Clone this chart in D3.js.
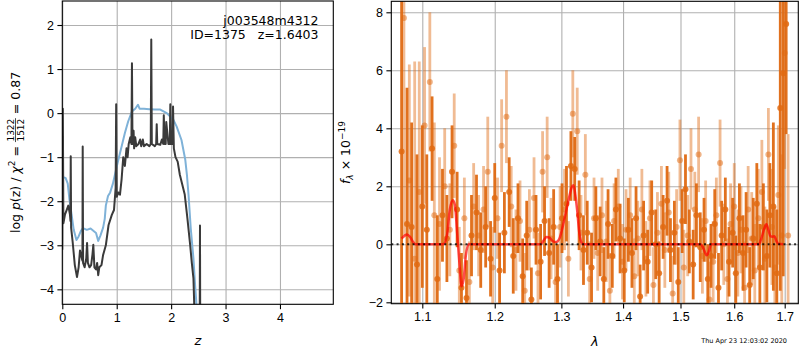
<!DOCTYPE html>
<html>
<head>
<meta charset="utf-8">
<script src="https://cdn.jsdelivr.net/npm/d3@7"></script>
<style>
  body { margin: 0; background: #fff; }
  svg { display: block; font-family: "DejaVu Sans", sans-serif; }
  .tick text { font-size: 12.5px; fill: #000; }
  .tick line { stroke: #000; stroke-width: 1.1; }
  .grid .tick line { stroke: #b0b0b0; stroke-width: 1.1; }
  .grid .domain { display: none; }
  .frame { fill: none; stroke: #000; stroke-width: 1.1; }
</style>
</head>
<body>
<svg id="chart" width="800" height="350"></svg>
<script>
// ---- p(z) panel data
const zBlack = [
  0.000, 0.010, 0.020, 0.050, 0.080, 0.110, 0.140, 0.150, 0.155, 0.162,
  0.190, 0.230, 0.270, 0.300, 0.325, 0.360, 0.370, 0.375, 0.382, 0.410,
  0.440, 0.455, 0.470, 0.500, 0.530, 0.555, 0.570, 0.590, 0.620, 0.640,
  0.660, 0.680, 0.720, 0.750, 0.800, 0.850, 0.910, 0.950, 0.980, 0.990,
  1.000, 1.030, 1.060, 1.090, 1.120, 1.150, 1.180, 1.200, 1.220, 1.250,
  1.270, 1.280, 1.290, 1.310, 1.320, 1.340, 1.360, 1.400, 1.430, 1.450,
  1.480, 1.500, 1.550, 1.600, 1.625, 1.635, 1.645, 1.700, 1.725, 1.735,
  1.745, 1.800, 1.830, 1.855, 1.865, 1.880, 1.900, 1.910, 1.950, 1.975,
  1.985, 1.995, 2.025, 2.035, 2.050, 2.080, 2.120, 2.160, 2.200, 2.250,
  2.300, 2.350, 2.380, 2.410, 2.440, 2.500, 2.525, 2.530, 2.535, 2.560
];
const pBlack = [
  -3.10, 0.10, -2.50, -2.30, -2.20, -2.10, -2.30, -2.45, -0.98, -2.60,
  -2.92, -3.45, -3.72, -3.50, -3.12, -3.30, -3.35, -0.76, -3.40, -3.50,
  -3.30, -2.95, -3.40, -3.50, -3.45, -3.20, -2.99, -3.50, -3.55, -3.40,
  -3.68, -3.50, -3.45, -3.22, -3.00, -2.54, -2.31, -2.20, -1.70, 0.20,
  -1.90, -1.80, -1.85, -1.50, -1.00, -1.20, -0.80, -1.00, -0.70, -0.55,
  -0.70, 1.13, -0.70, -0.40, -0.80, -0.55, -0.75, -0.70, -0.60, -0.75,
  -0.60, -0.75, -0.70, -0.75, -0.70, 1.67, -0.70, -0.75, -0.70, -0.25,
  -0.70, -0.72, -0.60, -0.70, -0.05, -0.70, -0.70, -0.20, -0.70, -0.70,
  0.20, -0.70, -0.70, 0.15, -0.80, -1.00, -1.10, -1.40, -1.60, -1.85,
  -2.40, -3.00, -3.40, -3.75, -5.00, -5.00, -5.00, -2.55, -5.00, -5.00
];
const zBlue = [
  0.00, 0.06, 0.10, 0.13, 0.17, 0.21, 0.26, 0.30, 0.34, 0.38,
  0.45, 0.52, 0.57, 0.62, 0.66, 0.70, 0.75, 0.78, 0.80, 0.84,
  0.88, 0.93, 0.97, 1.03, 1.09, 1.15, 1.21, 1.28, 1.34, 1.39,
  1.42, 1.50, 1.60, 1.70, 1.80, 1.92, 2.04, 2.10, 2.19, 2.26,
  2.29, 2.32, 2.36, 2.41, 2.44, 2.48
];
const pBlue = [
  -1.45, -1.47, -1.60, -1.95, -2.30, -2.65, -2.88, -2.80, -2.68, -2.61,
  -2.65, -2.62, -2.67, -2.72, -2.90, -2.78, -2.60, -2.40, -2.10, -1.88,
  -1.80, -1.60, -1.38, -1.06, -0.76, -0.45, -0.19, 0.04, 0.10, 0.19,
  0.10, 0.10, 0.09, 0.08, 0.08, 0.00, -0.15, -0.30, -0.61, -1.06,
  -1.40, -1.86, -2.61, -3.30, -3.90, -4.60
];
const zTicks = [0, 1, 2, 3, 4];
const pTicks = [-4, -3, -2, -1, 0, 1, 2];

// ---- spectrum panel data (flux in 1e-19)
const lamA = [
  1.073, 1.080, 1.086, 1.093, 1.100, 1.106, 1.113, 1.120, 1.127, 1.133,
  1.140, 1.147, 1.153, 1.160, 1.167, 1.174, 1.180, 1.187, 1.194, 1.200,
  1.207, 1.214, 1.221, 1.227, 1.234, 1.241, 1.247, 1.254, 1.261, 1.268,
  1.274, 1.281, 1.288, 1.294, 1.301, 1.308, 1.315, 1.321, 1.328, 1.335,
  1.341, 1.348, 1.355, 1.362, 1.368, 1.375, 1.382, 1.388, 1.395, 1.402,
  1.409, 1.415, 1.422, 1.429, 1.435, 1.442, 1.449, 1.456, 1.462, 1.469,
  1.476, 1.482, 1.489, 1.496, 1.503, 1.509, 1.516, 1.523, 1.529, 1.536,
  1.543, 1.550, 1.556, 1.563, 1.570, 1.576, 1.583, 1.590, 1.597, 1.603,
  1.610, 1.617, 1.623, 1.630, 1.637, 1.644, 1.650, 1.657, 1.664, 1.670,
  1.677, 1.684, 1.691, 1.697, 1.703
];
const fluxA = [
  3.2, 0.7, 0.6, -0.7, 1.3, 0.5, 3.3, -1.2, 1.0, 0.2,
  2.5, 1.2, -1.5, -1.85, 0.3, 1.1, -0.2, 0.6, -0.5, 1.6,
  -0.9, 0.4, 1.8, -0.4, 0.9, -1.1, 0.3, -1.9, 0.5, -0.6,
  0.8, -0.3, 0.6, -1.2, 0.9, 1.4, 2.7, 2.6, 1.0, -0.2,
  0.4, -0.8, 0.9, 0.1, -1.2, 0.7, -0.4, 1.2, 0.2, -0.9,
  0.5, -0.3, 0.9, -1.8, 0.3, -0.6, 1.1, 0.0, -1.0, 0.6,
  1.5, -0.2, 0.4, -1.3, 0.8, 1.9, 0.1, -0.7, 1.0, -0.1,
  0.5, -1.2, -0.4, 0.7, -1.5, 0.3, 1.2, -0.6, 0.4, -1.0,
  0.9, -0.3, 0.5, -1.4, 0.2, 1.4, -0.8, 0.6, -0.4, 1.0,
  1.3, -1.0, 4.7, 5.9, 7.6
];
const errA = [
  6.0, 4.7, 3.6, 3.8, 2.8, 2.6, 1.8, 2.2, 1.6, 1.5,
  1.6, 1.3, 1.2, 1.3, 1.4, 1.3, 1.3, 1.4, 1.3, 1.2,
  1.3, 1.4, 1.2, 1.3, 1.2, 1.3, 1.2, 1.1, 1.2, 1.3,
  1.2, 1.2, 1.3, 1.2, 1.2, 1.3, 1.2, 1.1, 1.2, 1.2,
  1.1, 1.2, 1.1, 1.2, 1.1, 1.2, 1.1, 1.1, 1.2, 1.1,
  1.1, 1.2, 1.1, 1.1, 1.2, 1.1, 1.1, 1.2, 1.1, 1.1,
  1.2, 1.1, 1.1, 1.2, 1.1, 1.2, 1.1, 1.2, 1.1, 1.2,
  1.1, 1.2, 1.1, 1.2, 1.2, 1.2, 1.1, 1.2, 1.2, 1.3,
  1.2, 1.3, 1.3, 1.3, 1.4, 1.4, 1.5, 1.5, 1.6, 1.8,
  2.9, 2.2, 6.3, 7.0, 3.8
];
const lamB = [
  1.076, 1.083, 1.090, 1.096, 1.103, 1.110, 1.116, 1.123, 1.130, 1.137,
  1.143, 1.150, 1.157, 1.164, 1.170, 1.177, 1.184, 1.190, 1.197, 1.204,
  1.210, 1.217, 1.224, 1.231, 1.237, 1.244, 1.251, 1.258, 1.264, 1.271,
  1.278, 1.284, 1.291, 1.298, 1.305, 1.311, 1.318, 1.325, 1.331, 1.338,
  1.345, 1.352, 1.358, 1.365, 1.372, 1.378, 1.385, 1.392, 1.399, 1.405,
  1.412, 1.419, 1.425, 1.432, 1.439, 1.446, 1.452, 1.459, 1.466, 1.472,
  1.479, 1.486, 1.493, 1.499, 1.506, 1.513, 1.519, 1.526, 1.533, 1.540,
  1.546, 1.553, 1.560, 1.566, 1.573, 1.580, 1.587, 1.593, 1.600, 1.607,
  1.613, 1.620, 1.627, 1.634, 1.640, 1.647, 1.654, 1.660, 1.667, 1.674,
  1.680, 1.687, 1.694, 1.700, 1.707
];
const fluxB = [
  7.8, 2.2, -0.5, 1.8, 4.1, 5.6, 1.0, 0.7, 2.0, 0.5,
  3.4, -0.9, 0.9, -1.3, 1.3, 0.3, 1.2, 2.5, -0.8, 0.9,
  3.4, 4.4, 1.3, -0.2, 0.8, -1.6, 0.5, 1.6, -1.0, 2.5,
  3.0, 0.2, -1.3, 0.6, 1.2, -0.5, 4.5, 3.9, 0.4, 2.4,
  -1.2, 0.9, -0.3, 1.0, 0.1, -1.6, 0.8, 1.3, -0.6, 0.5,
  1.0, -1.1, 0.2, 1.2, -0.5, 0.9, -1.4, 0.4, 1.4, -0.2,
  1.1, -1.7, 0.6, 2.9, -0.8, 0.3, 2.6, 1.2, 3.1, -0.4,
  0.8, -1.9, -0.6, 1.0, 2.8, 0.0, -1.2, 0.7, 1.3, -0.3,
  0.5, -1.5, 1.2, 0.2, -0.9, 0.9, 1.8, -0.5, 3.1, 0.6,
  -0.8, 1.7, 0.3, 6.6, 0.3
];
const errB = [
  7.5, 4.0, 6.8, 4.5, 2.7, 2.4, 3.2, 2.3, 2.0, 1.6,
  1.8, 1.5, 1.4, 1.4, 1.5, 1.4, 1.5, 1.9, 1.4, 1.4,
  1.6, 1.6, 1.4, 1.4, 1.4, 1.3, 1.4, 1.4, 1.4, 1.4,
  1.4, 1.4, 1.4, 1.4, 1.4, 1.3, 1.5, 1.5, 1.3, 1.4,
  1.3, 1.4, 1.3, 1.3, 1.4, 1.3, 1.3, 1.3, 1.3, 1.4,
  1.3, 1.3, 1.3, 1.4, 1.3, 1.3, 1.3, 1.4, 1.3, 1.3,
  1.4, 1.3, 1.3, 1.4, 1.3, 1.4, 1.4, 1.3, 1.3, 1.3,
  1.4, 1.3, 1.4, 1.3, 1.5, 1.4, 1.4, 1.4, 1.5, 1.5,
  1.5, 1.6, 1.5, 1.6, 1.6, 1.7, 1.8, 1.8, 1.6, 2.0,
  2.1, 2.4, 2.8, 4.0, 3.5
];
const lamModel = [
  1.073, 1.077, 1.080, 1.084, 1.088, 1.091, 1.128, 1.133, 1.137, 1.141,
  1.144, 1.147, 1.150, 1.153, 1.156, 1.159, 1.163, 1.268, 1.273, 1.277,
  1.282, 1.287, 1.292, 1.297, 1.302, 1.307, 1.312, 1.316, 1.319, 1.322,
  1.325, 1.328, 1.331, 1.335, 1.537, 1.542, 1.548, 1.552, 1.556, 1.648,
  1.653, 1.658, 1.663, 1.667, 1.671, 1.675, 1.679, 1.683, 1.687, 1.697
];
const fluxModel = [
  0.20, 0.30, 0.34, 0.25, 0.08, 0.00, 0.00, 0.30, 1.20, 1.52,
  1.35, 0.40, -0.60, -1.45, -1.20, -0.40, 0.00, 0.00, 0.15, 0.25,
  0.22, 0.10, 0.08, 0.20, 0.60, 1.10, 1.60, 1.95, 2.04, 1.70,
  1.15, 0.45, 0.10, 0.00, 0.00, -0.15, -0.38, -0.25, 0.00, 0.00,
  0.20, 0.50, 0.69, 0.50, 0.28, 0.26, 0.28, 0.12, 0.02, 0.00
];
const lamTicks = [1.1, 1.2, 1.3, 1.4, 1.5, 1.6, 1.7];
const fTicks = [-2, 0, 2, 4, 6, 8];

const svg = d3.select("#chart");
const defs = svg.append("defs");

// panel boxes (pixels)
const L = { left: 62.3, right: 333.3, top: 1, bottom: 304.3 };
const R = { left: 391.3, right: 798.3, top: 1.3, bottom: 303.7 };

function clip(id, b) {
  defs.append("clipPath").attr("id", id)
    .append("rect")
    .attr("x", b.left).attr("y", b.top)
    .attr("width", b.right - b.left).attr("height", b.bottom - b.top);
}
clip("clipL", L);
clip("clipR", R);

function drawGrid(b, x, y, xt, yt) {
  svg.append("g").attr("class", "grid")
    .attr("transform", "translate(0," + b.bottom + ")")
    .call(d3.axisBottom(x).tickValues(xt).tickSize(-(b.bottom - b.top)).tickFormat(""));
  svg.append("g").attr("class", "grid")
    .attr("transform", "translate(" + b.left + ",0)")
    .call(d3.axisLeft(y).tickValues(yt).tickSize(-(b.right - b.left)).tickFormat(""));
}
function drawFrame(b, x, y, xt, yt, xfmt, yfmt) {
  const gx = svg.append("g")
    .attr("transform", "translate(0," + b.bottom + ")")
    .call(d3.axisBottom(x).tickValues(xt).tickSize(4.9).tickPadding(3.5).tickFormat(xfmt));
  gx.select(".domain").remove();
  gx.selectAll("text").attr("font-family", null).attr("font-size", null);
  const gy = svg.append("g")
    .attr("transform", "translate(" + b.left + ",0)")
    .call(d3.axisLeft(y).tickValues(yt).tickSize(4.9).tickPadding(3.5).tickFormat(yfmt));
  gy.select(".domain").remove();
  gy.selectAll("text").attr("font-family", null).attr("font-size", null);
  svg.append("rect").attr("class", "frame")
    .attr("x", b.left).attr("y", b.top)
    .attr("width", b.right - b.left).attr("height", b.bottom - b.top);
}

// ---------- left: log p(z)
const xz = d3.scaleLinear().domain([0, 4.98]).range([L.left, L.right]);
const yp = d3.scaleLinear().domain([-4.34, 2.545]).range([L.bottom, L.top]);
drawGrid(L, xz, yp, zTicks, pTicks);

const lineZ = d3.line().x(d => xz(d[0])).y(d => yp(d[1]));
const gL = svg.append("g").attr("clip-path", "url(#clipL)");
gL.append("path")
  .datum(zBlue.map((z, i) => [z, pBlue[i]]))
  .attr("d", lineZ)
  .attr("fill", "none")
  .attr("stroke", "#7fb2d8")
  .attr("stroke-width", 2)
  .attr("stroke-linejoin", "round");
gL.append("path")
  .datum(zBlack.map((z, i) => [z, pBlack[i]]))
  .attr("d", lineZ)
  .attr("fill", "none")
  .attr("stroke", "#3a3a3a")
  .attr("stroke-width", 2)
  .attr("stroke-linejoin", "round");

drawFrame(L, xz, yp, zTicks, pTicks, d3.format("d"), d3.format("d"));

svg.append("text").attr("x", 318.5).attr("y", 25)
  .attr("text-anchor", "end").attr("font-size", 12.5)
  .text("j003548m4312");
svg.append("text").attr("x", 318.5).attr("y", 39)
  .attr("text-anchor", "end").attr("font-size", 12.5)
  .attr("xml:space", "preserve")
  .text("ID=1375   z=1.6403");

// x label
svg.append("text").attr("x", (L.left + L.right) / 2).attr("y", 345)
  .attr("text-anchor", "middle").attr("font-size", 13).attr("font-style", "italic")
  .text("z");

// y label with chi2 fraction
const yl = svg.append("g").attr("transform", "translate(20,152.5) rotate(-90)");
const t1 = yl.append("text").attr("font-size", 12.5).attr("xml:space", "preserve");
t1.append("tspan").text("log ");
t1.append("tspan").attr("font-style", "italic").text("p");
t1.append("tspan").text("(z) / ");
t1.append("tspan").attr("font-style", "italic").text("χ");
t1.append("tspan").attr("font-size", 9).attr("dy", -5).text("2");
t1.append("tspan").attr("dy", 5).text(" = ");
const w1 = t1.node().getComputedTextLength();
const num = yl.append("text").attr("font-size", 9).attr("text-anchor", "middle").text("1322");
const den = yl.append("text").attr("font-size", 9).attr("text-anchor", "middle").text("1512");
const fw = Math.max(num.node().getComputedTextLength(), den.node().getComputedTextLength()) + 1;
const t2 = yl.append("text").attr("font-size", 12.5).attr("xml:space", "preserve").text(" = 0.87");
const w2 = t2.node().getComputedTextLength();
const x0 = -(w1 + fw + w2) / 2;
t1.attr("x", x0);
num.attr("x", x0 + w1 + fw / 2).attr("y", -6.5);
den.attr("x", x0 + w1 + fw / 2).attr("y", 3.5);
yl.append("line")
  .attr("x1", x0 + w1).attr("x2", x0 + w1 + fw)
  .attr("y1", -4.5).attr("y2", -4.5)
  .attr("stroke", "#000").attr("stroke-width", 0.7);
t2.attr("x", x0 + w1 + fw);

// ---------- right: spectrum
const xl = d3.scaleLog().domain([1.0598, 1.728]).range([R.left, R.right]);
const yf = d3.scaleLinear().domain([-2.048, 8.379]).range([R.bottom, R.top]);
drawGrid(R, xl, yf, lamTicks, fTicks);

const gR = svg.append("g").attr("clip-path", "url(#clipR)");
const orange = "#e06a12";

function drawSpec(lam, flux, err, op, mop) {
  const pts = lam.map((l, i) => ({ l: l, f: flux[i], e: err[i] }));
  const g = gR.append("g");
  g.selectAll("line").data(pts).enter().append("line")
    .attr("x1", d => xl(d.l)).attr("x2", d => xl(d.l))
    .attr("y1", d => yf(d.f - d.e)).attr("y2", d => yf(d.f + d.e))
    .attr("stroke", orange).attr("stroke-width", 2.8).attr("opacity", op);
  g.selectAll("circle").data(pts).enter().append("circle")
    .attr("cx", d => xl(d.l)).attr("cy", d => yf(d.f))
    .attr("r", 3)
    .attr("fill", orange).attr("opacity", mop);
}
drawSpec(lamB, fluxB, errB, 0.45, 0.5);
drawSpec(lamA, fluxA, errA, 0.95, 0.85);

gR.append("path")
  .datum(lamModel.map((l, i) => [l, fluxModel[i]]))
  .attr("d", d3.line().x(d => xl(d[0])).y(d => yf(d[1])).curve(d3.curveMonotoneX))
  .attr("fill", "none")
  .attr("stroke", "red")
  .attr("stroke-width", 2.5)
  .attr("opacity", 0.7);

gR.append("line")
  .attr("x1", R.left).attr("x2", R.right)
  .attr("y1", yf(0)).attr("y2", yf(0))
  .attr("stroke", "#000").attr("stroke-width", 2)
  .attr("stroke-dasharray", "2,3.3").attr("opacity", 0.8);

drawFrame(R, xl, yf, lamTicks, fTicks, d3.format(".1f"), d3.format("d"));

svg.append("text").attr("x", (R.left + R.right) / 2).attr("y", 346)
  .attr("text-anchor", "middle").attr("font-size", 13).attr("font-style", "italic")
  .text("λ");

const fl = svg.append("text")
  .attr("transform", "translate(350,152.5) rotate(-90)")
  .attr("text-anchor", "middle").attr("font-size", 12.5);
fl.append("tspan").attr("font-style", "italic").text("f");
fl.append("tspan").attr("font-style", "italic").attr("font-size", 9).attr("dy", 3).text("λ");
fl.append("tspan").attr("dy", -3).text(" × 10");
fl.append("tspan").attr("font-size", 9).attr("dy", -5).text("−19");

svg.append("text").attr("x", 787).attr("y", 343)
  .attr("text-anchor", "end").attr("font-size", 6.5)
  .text("Thu Apr 23 12:03:02 2020");
</script>
</body>
</html>
